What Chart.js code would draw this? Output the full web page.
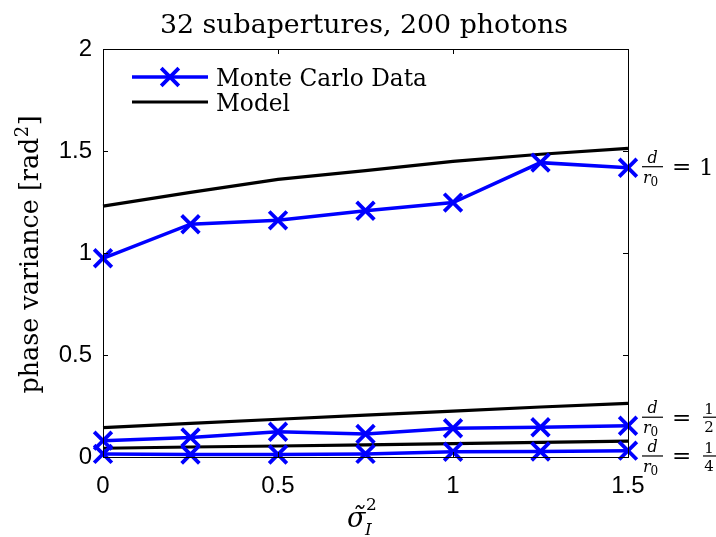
<!DOCTYPE html>
<html>
<head>
<meta charset="utf-8">
<script src="https://cdn.jsdelivr.net/npm/chart.js@4.4.1/dist/chart.umd.min.js"></script>
<style>
  html, body { margin: 0; padding: 0; background: #ffffff; }
  #wrap { width: 716px; height: 537px; }
</style>
</head>
<body>
<div id="wrap"><canvas id="chart" width="716" height="537"></canvas></div>
<script>
// x values (normalized scintillation index)
const xVals = [0, 0.25, 0.5, 0.75, 1, 1.25, 1.5];

// Monte Carlo data for d/r0 = 1, 1/2, 1/4
const mcD1 = [0.974, 1.141, 1.160, 1.207, 1.247, 1.443, 1.418];
const mcD2 = [0.080, 0.096, 0.124, 0.113, 0.141, 0.146, 0.153];
const mcD4 = [0.015, 0.012, 0.012, 0.015, 0.026, 0.027, 0.031];

// model curves for the same cases
const modelD1 = [1.230, 1.297, 1.361, 1.404, 1.449, 1.484, 1.513];
const modelD2 = [0.144, 0.165, 0.185, 0.205, 0.225, 0.245, 0.263];
const modelD4 = [0.043, 0.049, 0.054, 0.059, 0.066, 0.072, 0.078];

const xTicks = [0, 0.5, 1, 1.5];
const yTicks = [0, 0.5, 1, 1.5, 2];

// right hand labels: text of the right side, y value where the fraction bar sits
const caseRhs = ['1', '1/2', '1/4'];
const caseLabelY = [1.423, 0.195, 0.005];

const BLUE = '#0000ff';
const SERIF = '"DejaVu Serif", "Liberation Serif", serif';
const SANS = '"Liberation Sans", Arial, sans-serif';

function pts(ys) {
    return xVals.map((x, i) => ({ x: x, y: ys[i] }));
}

function mcSet(ys) {
    return {
        data: pts(ys), borderColor: BLUE, backgroundColor: BLUE, borderWidth: 3.5,
        pointStyle: 'crossRot', pointRadius: 12.5, pointBorderWidth: 3.8,
        pointBorderColor: BLUE, clip: false, tension: 0
    };
}

function modelSet(ys) {
    return {
        data: pts(ys), borderColor: '#000000', borderWidth: 3.2,
        pointRadius: 0, clip: false, tension: 0
    };
}

// fit a font size so that text spans the given width
function fitFont(ctx, text, style, family, width) {
    ctx.font = style + ' 100px ' + family;
    const w = ctx.measureText(text).width;
    return (100 * width / w);
}

function drawX(ctx, x, y, h, lw, color) {
    ctx.save();
    ctx.strokeStyle = color;
    ctx.lineWidth = lw;
    ctx.beginPath();
    ctx.moveTo(x - h, y - h); ctx.lineTo(x + h, y + h);
    ctx.moveTo(x - h, y + h); ctx.lineTo(x + h, y - h);
    ctx.stroke();
    ctx.restore();
}

function drawCaseLabel(ctx, x0, yBar, rhs) {
    ctx.save();
    ctx.fillStyle = '#000';
    ctx.textBaseline = 'alphabetic';
    // d / r0
    ctx.textAlign = 'center';
    ctx.font = 'italic 16px ' + SERIF;
    ctx.fillText('d', x0 + 10.5, yBar - 4);
    ctx.fillRect(x0, yBar - 0.6, 21, 1.2);
    ctx.textAlign = 'left';
    ctx.fillText('r', x0 + 1, yBar + 16);
    ctx.font = '12px ' + SERIF;
    ctx.fillText('0', x0 + 8.5, yBar + 19);
    // = sign
    ctx.font = '23px ' + SERIF;
    ctx.fillText('=', x0 + 30, yBar + 7.5);
    if (rhs === '1') {
        ctx.fillText('1', x0 + 57, yBar + 8.5);
    } else {
        const parts = rhs.split('/');
        ctx.textAlign = 'center';
        ctx.font = '15px ' + SERIF;
        ctx.fillText(parts[0], x0 + 67, yBar - 3);
        ctx.fillRect(x0 + 61, yBar - 0.6, 14, 1.2);
        ctx.fillText(parts[1], x0 + 67, yBar + 15);
    }
    ctx.restore();
}

const decorPlugin = {
    id: 'decor',
    afterDraw(chart) {
        const ctx = chart.ctx;
        const a = chart.chartArea;
        const xs = chart.scales.x, ys = chart.scales.y;
        ctx.save();

        // axes box
        ctx.strokeStyle = '#000';
        ctx.lineWidth = 1;
        ctx.strokeRect(Math.round(a.left) + 0.5, Math.round(a.top) + 0.5,
            Math.round(a.right - a.left), Math.round(a.bottom - a.top));

        // inward tick marks on all four sides
        const tl = 5;
        ctx.beginPath();
        xTicks.forEach(v => {
            const px = Math.round(xs.getPixelForValue(v)) + 0.5;
            ctx.moveTo(px, a.bottom); ctx.lineTo(px, a.bottom - tl);
            ctx.moveTo(px, a.top); ctx.lineTo(px, a.top + tl);
        });
        yTicks.forEach(v => {
            const py = Math.round(ys.getPixelForValue(v)) + 0.5;
            ctx.moveTo(a.left, py); ctx.lineTo(a.left + tl, py);
            ctx.moveTo(a.right, py); ctx.lineTo(a.right - tl, py);
        });
        ctx.stroke();

        ctx.fillStyle = '#000';

        // title
        const title = '32 subapertures, 200 photons';
        const tsz = fitFont(ctx, title, '', SERIF, 408);
        ctx.font = tsz.toFixed(1) + 'px ' + SERIF;
        ctx.textAlign = 'center';
        ctx.textBaseline = 'alphabetic';
        ctx.fillText(title, 364, 33);

        // y axis title, rotated
        const yl = 'phase variance [rad';
        const ysz = fitFont(ctx, yl + '2]', '', SERIF, 282);
        ctx.save();
        ctx.translate(38, 255);
        ctx.rotate(-Math.PI / 2);
        ctx.font = ysz.toFixed(1) + 'px ' + SERIF;
        const w1 = ctx.measureText(yl).width;
        const wb = ctx.measureText(']').width;
        ctx.font = (ysz * 0.7).toFixed(1) + 'px ' + SERIF;
        const w2 = ctx.measureText('2').width;
        const start = -(w1 + w2 + wb) / 2;
        ctx.textAlign = 'left';
        ctx.font = ysz.toFixed(1) + 'px ' + SERIF;
        ctx.fillText(yl, start, 0);
        ctx.fillText(']', start + w1 + w2 + 1, 0);
        ctx.font = (ysz * 0.7).toFixed(1) + 'px ' + SERIF;
        ctx.fillText('2', start + w1 + 0.5, -ysz * 0.4);
        ctx.restore();

        // x axis title: sigma tilde, sub I, sup 2
        ctx.textAlign = 'left';
        ctx.font = 'italic 27px ' + SERIF;
        ctx.fillText('\u03c3\u0303', 347, 527);
        ctx.font = '17px ' + SERIF;
        ctx.fillText('2', 366, 510);
        ctx.font = 'italic 17px ' + SERIF;
        ctx.fillText('I', 365, 535);

        // legend
        const lsz = fitFont(ctx, 'Monte Carlo Data', '', SERIF, 211);
        ctx.strokeStyle = BLUE;
        ctx.lineWidth = 3.5;
        ctx.beginPath(); ctx.moveTo(132, 77); ctx.lineTo(208, 77); ctx.stroke();
        drawX(ctx, 170, 77, 8.8, 3.8, BLUE);
        ctx.strokeStyle = '#000';
        ctx.lineWidth = 3.2;
        ctx.beginPath(); ctx.moveTo(132, 102); ctx.lineTo(208, 102); ctx.stroke();
        ctx.font = lsz.toFixed(1) + 'px ' + SERIF;
        ctx.fillText('Monte Carlo Data', 216, 86);
        ctx.fillText('Model', 216, 111);

        // case labels right of the axes
        caseRhs.forEach((r, i) => {
            drawCaseLabel(ctx, a.right + 14, ys.getPixelForValue(caseLabelY[i]), r);
        });

        ctx.restore();
    }
};

new Chart(document.getElementById('chart').getContext('2d'), {
    type: 'line',
    data: {
        datasets: [
            mcSet(mcD1), mcSet(mcD2), mcSet(mcD4),
            modelSet(modelD1), modelSet(modelD2), modelSet(modelD4)
        ]
    },
    options: {
        responsive: false,
        animation: false,
        events: [],
        layout: { padding: { left: 0, top: 49, right: 88, bottom: 0 } },
        plugins: {
            legend: { display: false },
            title: { display: false },
            tooltip: { enabled: false }
        },
        scales: {
            x: {
                type: 'linear', min: 0, max: 1.5,
                afterFit: s => { s.height = 80; },
                afterBuildTicks: s => { s.ticks = xTicks.map(v => ({ value: v })); },
                grid: { display: false, drawTicks: false },
                border: { display: false },
                ticks: {
                    color: '#000', padding: 15, maxRotation: 0,
                    font: { family: SANS, size: 24 },
                    callback: v => String(v)
                }
            },
            y: {
                type: 'linear', min: 0, max: 2,
                afterFit: s => { s.width = 103; },
                afterBuildTicks: s => { s.ticks = yTicks.map(v => ({ value: v })); },
                grid: { display: false, drawTicks: false },
                border: { display: false },
                ticks: {
                    color: '#000', padding: 11,
                    font: { family: SANS, size: 24 },
                    callback: v => String(v)
                }
            }
        }
    },
    plugins: [decorPlugin]
});
</script>
</body>
</html>
